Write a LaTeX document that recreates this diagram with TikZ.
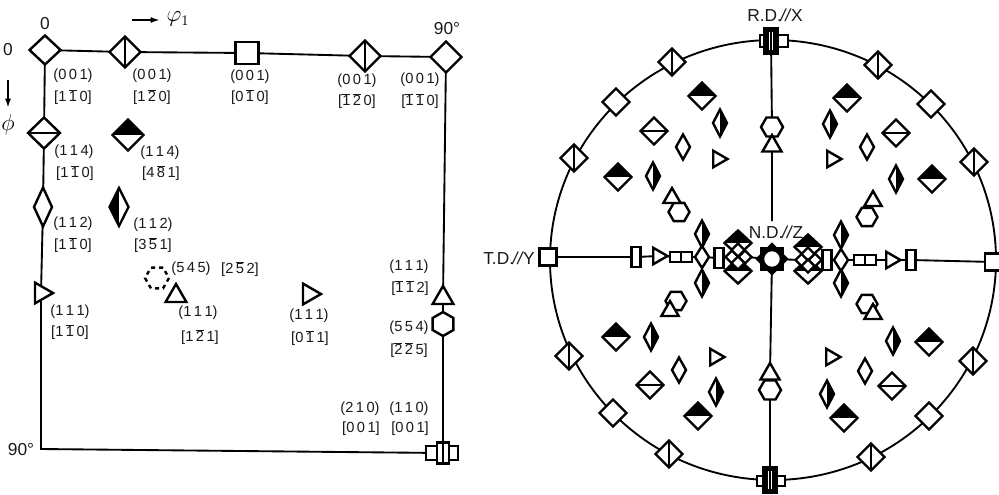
\documentclass[tikz,border=0pt]{standalone}
\usepackage{fontspec}
\setmainfont{Liberation Sans}
\usetikzlibrary{shapes.geometric,arrows.meta}
\newcommand\ob[1]{$\overline{\mbox{#1}}$}
\newcommand\pll{\kern-1pt\textit{//}\kern-0.5pt}
\tikzset{
 sym/.style={draw=black,fill=white,line width=1.8pt,inner sep=0pt,outer sep=0pt},
 dia/.style 2 args={sym,diamond,minimum width=#1*0.75pt,minimum height=#2*0.75pt},
 rct/.style 2 args={sym,rectangle,minimum width=#1*0.75pt,minimum height=#2*0.75pt},
 triu/.style={sym,regular polygon,regular polygon sides=3,minimum size=#1*1.5pt},
 trir/.style={triu=#1,shape border rotate=-90},
 hexf/.style={sym,regular polygon,regular polygon sides=6,minimum size=#1*1.5pt},
 hexp/.style={hexf=#1,shape border rotate=30},
 splitv/.style={path picture={\draw[black,line width=1.3pt] (path picture bounding box.north)--(path picture bounding box.south);}},
 splith/.style={path picture={\draw[black,line width=1.3pt] (path picture bounding box.west)--(path picture bounding box.east);}},
 halfh/.style={path picture={\fill[black] (path picture bounding box.north west) rectangle (path picture bounding box.east);}},
 halfr/.style={path picture={\fill[black] (path picture bounding box.north) rectangle (path picture bounding box.south east);}},
 halfl/.style={path picture={\fill[black] (path picture bounding box.north west) rectangle (path picture bounding box.south);}},
 conn/.style={line width=1.4pt},
 lab/.style={inner sep=0pt,font=\fontsize{11}{13}\selectfont,text=black!90},
 big/.style={inner sep=0pt,font=\fontsize{13}{15}\selectfont,text=black!90},
 sym2/.style={inner sep=0pt,font=\fontsize{16}{18}\selectfont,text=black},
}
\begin{document}
\begin{tikzpicture}[x=0.75pt,y=-0.75pt]
\useasboundingbox (0,0) rectangle (999,494);
\clip (0,0) rectangle (999,494);
% ---------- left panel symbols
\node[dia={31}{29}] (a1) at (45,50) {};
\node[dia={31}{31},splitv] (a2) at (125,52) {};
\node[rct={23}{22}] (a3) at (247,53) {};
\node[dia={31}{31},splitv] (a4) at (365,56) {};
\node[dia={31}{31}] (a5) at (446,57) {};
\node[dia={32}{31},splith] (b1) at (44,133) {};
\node[dia={31}{31},halfh] (b2) at (128,135) {};
\node[dia={18}{39}] (c1) at (43,207) {};
\node[dia={19}{38},halfl] (c2) at (119,207) {};
\node[trir=12] (d1) at (41,293) {};
\node[hexf=12,dashed] (d2) at (157,278) {};
\node[triu=12] (d3) at (176,296) {};
\node[trir=12] (d4) at (309,294) {};
\node[triu=12] (e1) at (443,298) {};
\node[hexp=12] (e2) at (443,324) {};
\node[rct={32}{14}] (f1) at (442,453) {};
\node[rct={12}{21},splitv] (f2) at (443,453) {};
\coordinate (corner) at (41,449);
\draw[conn] (a1)--(a2)--(a3)--(a4)--(a5);
\draw[conn] (a1)--(b1)--(c1)--(d1)--(corner)--(f1);
\draw[conn] (a5)--(e1)--(e2)--(f2);
% left panel labels
\node[big] (t0a) at (45,24) {0};
\node[big] (t0b) at (8,50) {0};
\node[big] (t90a) at (447,29) {90°};
\node[big] (t90b) at (21,450) {90°};
\coordinate (arrA) at (132,20); \coordinate (arrB) at (160,20);
\draw[conn,-{Latex[length=7pt,width=4.5pt]}] (arrA)--(arrB);
\coordinate (arrC) at (8,80); \coordinate (arrD) at (8,108);
\draw[conn,-{Latex[length=7pt,width=4.5pt]}] (arrC)--(arrD);
\node[sym2] (tphi) at (178,19) {$\varphi_1$};
\node[sym2] (tPhi) at (8,125) {$\phi$};
\foreach \x/\y/\t [count=\i] in {
 73/76/{(0\,0\,1)}, 73/97/{[1\,\ob{1}\,0]},
 152/76/{(0\,0\,1)}, 152/97/{[1\,\ob{2}\,0]},
 250/77/{(0\,0\,1)}, 250/97/{[0\,\ob{1}\,0]},
 357/81/{(0\,0\,1)}, 357/101/{[\ob{1}\,\ob{2}\,0]},
 420/80/{(0\,0\,1)}, 420/101/{[\ob{1}\,\ob{1}\,0]},
 74/152/{(1\,1\,4)}, 75/173/{[1\,\ob{1}\,0]},
 160/153/{(1\,1\,4)}, 161/173/{[4\,\ob{8}\,1]},
 73/224/{(1\,1\,2)}, 73/245/{[1\,\ob{1}\,0]},
 153/225/{(1\,1\,2)}, 153/245/{[3\,\ob{5}\,1]},
 70/312/{(1\,1\,1)}, 70/332/{[1\,\ob{1}\,0]},
 191/269/{(5\,4\,5)}, 240/269/{[2\,\ob{5}\,2]},
 198/313/{(1\,1\,1)}, 200/337/{[1\,\ob{2}\,1]},
 309/316/{(1\,1\,1)}, 310/338/{[0\,\ob{1}\,1]},
 409/267/{(1\,1\,1)}, 410/288/{[\ob{1}\,\ob{1}\,2]},
 409/328/{(5\,5\,4)}, 409/350/{[\ob{2}\,\ob{2}\,5]},
 360/409/{(2\,1\,0)}, 361/429/{[0\,0\,1]},
 409/409/{(1\,1\,0)}, 410/429/{[0\,0\,1]}}
 \node[lab] (L\i) at (\x,\y) {\t};
% ---------- right panel
\coordinate (ctr) at (773,260);
\draw[conn] (ctr) ellipse [x radius=223,y radius=220];
% outer symbols
\foreach \x/\y [count=\i] in {672/62,878/65,574/158,974/162,569/356,973/361,669/454,871/457}
 \node[dia={27}{27},splitv] (rsv\i) at (\x,\y) {};
\foreach \x/\y [count=\i] in {616/102,931/104,613/413,929/416}
 \node[dia={27}{27}] (rd\i) at (\x,\y) {};
\foreach \x/\y [count=\i] in {702/96,847/98,618/177,932/179,616/337,929/342,698/416,844/418}
 \node[dia={27}{27},halfh] (rhh\i) at (\x,\y) {};
\foreach \x/\y [count=\i] in {720/123,830/124,653/176,896/179,651/337,893/341,716/392,827/394,702/234,841/235,702/283,841/283}
 \node[dia={14}{27},halfr] (rhv\i) at (\x,\y) {};
\foreach \x/\y [count=\i] in {654/131,896/133,650/385,892/386}
 \node[dia={27}{27},splith] (rsh\i) at (\x,\y) {};
\foreach \x/\y [count=\i] in {683/147,867/147,679/370,865/371}
 \node[dia={14}{25}] (rt\i) at (\x,\y) {};
\foreach \x/\y [count=\i] in {718/159,832/159,715/357,831/357}
 \node[trir=9.5] (rtr\i) at (\x,\y) {};
\foreach \x/\y [count=\i] in {679/212,867/217,676/301,867/304}
 \node[hexf=10.5] (rh\i) at (\x,\y) {};
\foreach \x/\y [count=\i] in {672/198,873/201,670/311,873/314}
 \node[triu=10] (rtu\i) at (\x,\y) {};
% axis nodes
\node[rct={17}{17}] (Tl) at (548,257) {};
\node[rct={18}{17}] (Tr) at (994,262) {};
\node[rct={9}{20}] (v1) at (636,257) {};
\node[trir=9.5] (t1) at (658,256) {};
\node[rct={22}{10},splitv] (h1) at (681,257) {};
\node[dia={14}{22}] (td1) at (702,257) {};
\node[rct={9}{20}] (v2) at (719,258) {};
\node[dia={27}{25},halfh] (k1) at (738,243) {};
\node[dia={27}{25},halfh] (k2) at (738,271) {};
\foreach \x/\y [count=\i] in {732/257,745/257,738/250,738/263}
 \node[dia={13}{13}] (kd\i) at (\x,\y) {};
\node[dia={27}{25},halfh] (m1) at (808,247) {};
\node[dia={27}{25},halfh] (m2) at (808,271) {};
\foreach \x/\y [count=\i] in {802/260,815/260,808/254,808/266}
 \node[dia={13}{13}] (md\i) at (\x,\y) {};
\node[rct={9}{20}] (v3) at (827,260) {};
\node[dia={14}{22}] (td2) at (841,260) {};
\node[rct={22}{10},splitv] (h2) at (865,260) {};
\node[trir=9.5] (t2) at (891,260) {};
\node[rct={9}{20}] (v4) at (911,260) {};
% centre
\node[dia={30}{30},fill=black] (cd) at (772,259) {};
\node[rct={22}{21},fill=black] (cs) at (772,259) {};
\node[sym,circle,minimum size=13.5pt] (cc) at (772,259) {};
% top and bottom crossed squares
\node[rct={28}{12},splitv] (ta) at (774,41) {};
\node[rct={13}{25},fill=black!75] (tb) at (771,41) {};
\node[rct={7}{20},splitv] (tc) at (771,41) {};
\node[rct={28}{10},splitv] (ba) at (771,481) {};
\node[rct={13}{25},fill=black!75] (bb) at (770,480) {};
\node[rct={7}{20},splitv] (bc) at (770,480) {};
% vertical axis symbols
\node[hexf=11] (vh1) at (772,127) {};
\node[triu=11] (vt1) at (772,146) {};
\node[triu=11] (vt2) at (770,374) {};
\node[hexf=11] (vh2) at (770,390) {};
\coordinate (vstop) at (772,221);
\draw[conn] (tb)--(vh1)--(vt1)--(vstop);
\draw[conn] (cs)--(vt2);
\draw[conn] (vh2)--(bb);
\draw[conn] (Tl)--(v1)--(t1)--(h1)--(td1)--(v2);
\draw[conn] (kd2)--(cs)--(md1);
\draw[conn] (td2)--(h2)--(t2)--(v4)--(Tr);
% right panel labels
\node[big] (rdx) at (775,15) {R.D.\pll X};
\node[big] (tdy) at (509,258) {T.D.\pll Y};
\node[big] (ndz) at (776,232) {N.D.\pll Z};
\end{tikzpicture}
\end{document}
